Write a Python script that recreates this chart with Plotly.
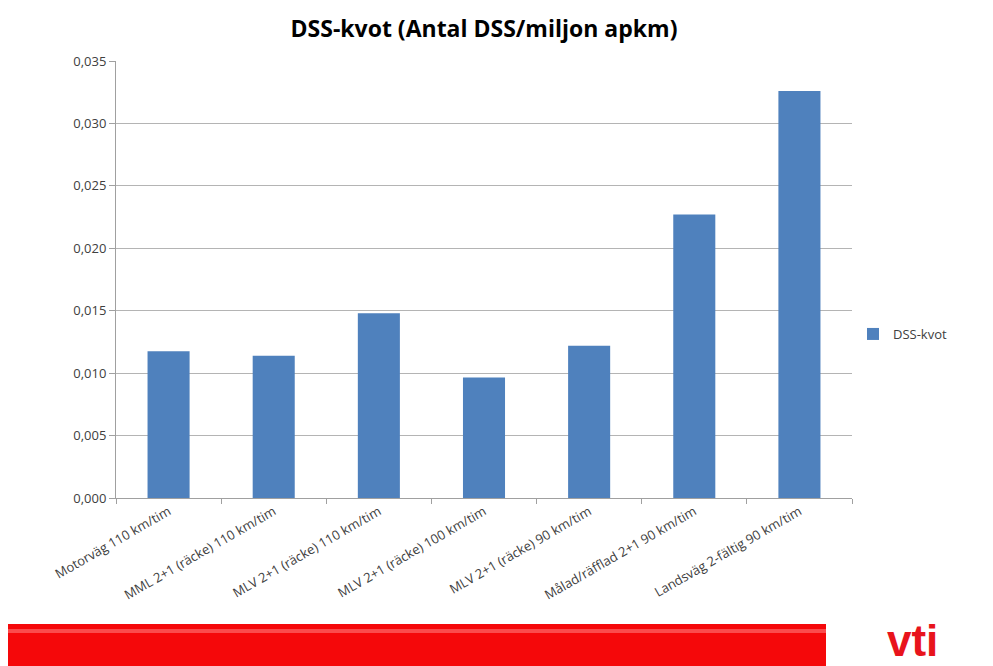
import plotly.graph_objects as go

categories = [
    "Motorväg 110 km/tim",
    "MML 2+1 (räcke) 110 km/tim",
    "MLV 2+1 (räcke) 110 km/tim",
    "MLV 2+1 (räcke) 100 km/tim",
    "MLV 2+1 (räcke) 90 km/tim",
    "Målad/räfflad 2+1 90 km/tim",
    "Landsväg 2-fältig 90 km/tim",
]
dss_kvot = [0.01175, 0.0114, 0.0148, 0.00965, 0.0122, 0.0227, 0.0326]
y_ticks = [0, 0.005, 0.010, 0.015, 0.020, 0.025, 0.030, 0.035]

L, R, T, B = 116, 852, 61, 498
PW, PH = R - L, B - T

fig = go.Figure()
fig.add_trace(go.Bar(
    x=categories, y=dss_kvot, name="DSS-kvot",
    marker=dict(color="#4f81bd", line=dict(width=0)),
))

fig.update_layout(
    width=993, height=666,
    margin=dict(l=L, r=993 - R, t=T, b=666 - B),
    paper_bgcolor="white", plot_bgcolor="white",
    separators=", ",
    bargap=0.6,
    font=dict(family="Open Sans, Liberation Sans, sans-serif", color="#404040", size=13),
    title=dict(
        text="<b>DSS-kvot (Antal DSS/miljon apkm)</b>",
        x=0.5, xref="paper", xanchor="center",
        y=0.957, yref="container", yanchor="middle",
        font=dict(size=23, color="#000000", family="Open Sans, Liberation Sans, sans-serif"),
    ),
    showlegend=True,
    legend=dict(
        x=(853 - L) / PW, y=(B - 334) / PH, xanchor="left", yanchor="middle",
        font=dict(size=13, color="#404040"),
        itemwidth=30, bgcolor="rgba(0,0,0,0)",
    ),
    xaxis=dict(
        type="category", tickson="boundaries", tickangle=-30,
        showline=True, linecolor="#a0a0a0", linewidth=1,
        ticks="outside", ticklen=5, tickcolor="#a0a0a0",
        showgrid=False, tickfont=dict(size=13, color="#404040"),
    ),
    yaxis=dict(
        range=[0, 0.035], tickvals=y_ticks, tickformat=".3f",
        showline=True, linecolor="#a0a0a0", linewidth=1,
        ticks="outside", ticklen=6, tickcolor="#a0a0a0",
        showgrid=True, gridcolor="#b4b4b4", gridwidth=1,
        zeroline=False, tickfont=dict(size=13, color="#404040"),
    ),
    shapes=[
        dict(type="rect", xref="paper", yref="paper",
             x0=(8 - L) / PW, x1=(826 - L) / PW,
             y0=(B - 668) / PH, y1=(B - 624) / PH,
             fillcolor="#f5080a", line=dict(width=0), layer="above"),
        dict(type="rect", xref="paper", yref="paper",
             x0=(8 - L) / PW, x1=(826 - L) / PW,
             y0=(B - 633) / PH, y1=(B - 629) / PH,
             fillcolor="rgba(255,120,120,0.6)", line=dict(width=0), layer="above"),
    ],
    annotations=[
        dict(text="<b>vti</b>", xref="paper", yref="paper",
             x=(912 - L) / PW, y=(B - 666) / PH,
             xanchor="center", yanchor="bottom", showarrow=False,
             borderpad=0,
             font=dict(size=44, color="#e8141c", family="Liberation Sans Narrow, Liberation Sans, sans-serif")),
    ],
)

fig.write_html("out.html")
